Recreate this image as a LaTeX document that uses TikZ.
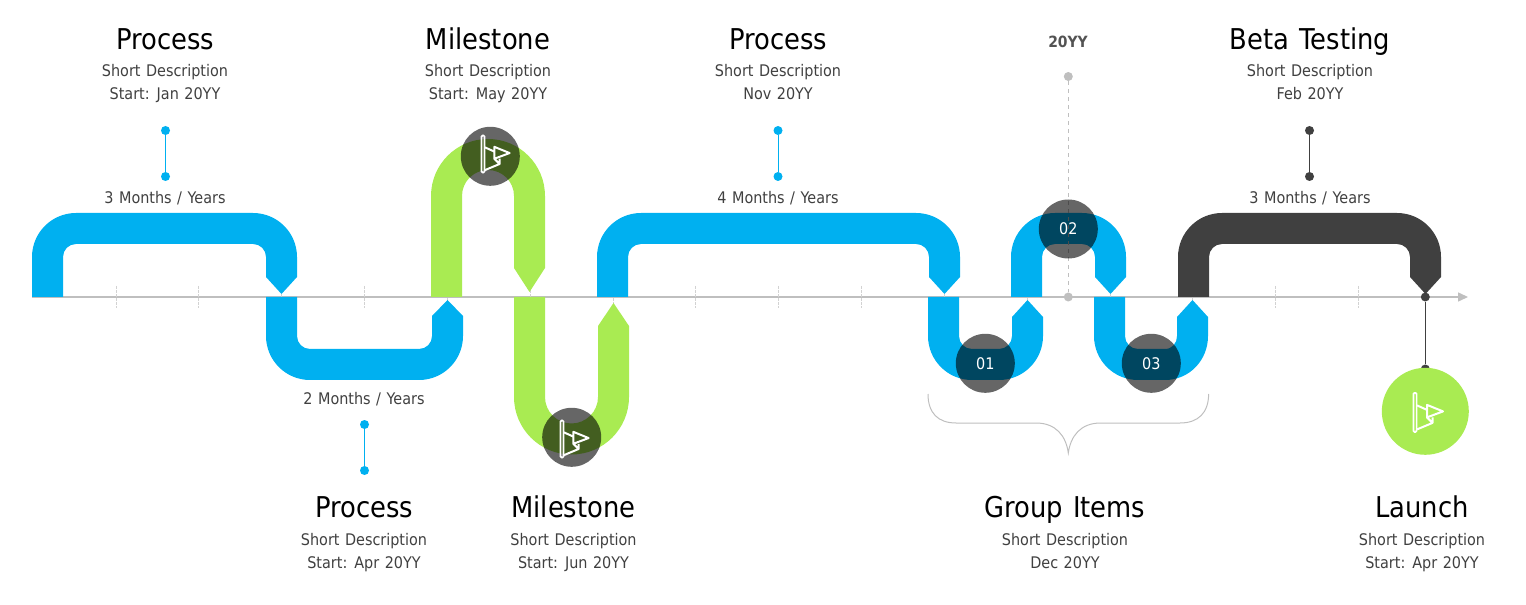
\documentclass[tikz,border=0pt]{standalone}
\usepackage{fontspec}
\setmainfont{DejaVu Sans}[FakeStretch=0.9,WordSpace=1.2]
\usetikzlibrary{positioning}
\usetikzlibrary{arrows.meta}
\definecolor{ribbonblue}{RGB}{0,176,240}
\definecolor{ribbongreen}{RGB}{169,235,82}
\definecolor{ribbondark}{RGB}{64,64,64}
\definecolor{axisgrey}{RGB}{191,191,191}
\tikzset{
	titletext/.style={text=black,font=\fontsize{21.5}{25}\selectfont,inner sep=0pt,anchor=base},
	desctext/.style={text=ribbondark,font=\fontsize{12}{14}\selectfont,inner sep=0pt,anchor=base},
	dot/.style={circle,fill=#1,inner sep=0pt,minimum size=6.75pt},
	badge/.style={circle,fill=black,fill opacity=0.6,text opacity=1,text=white,inner sep=0pt,minimum size=44.25pt,font=\fontsize{12}{14}\selectfont},
	flagicon/.pic={
		\draw [white,line width=1.3pt,rounded corners=0.8pt] (-1.6,-19.5) rectangle (1.6,19.5);
		\draw [white,line width=1.5pt,line join=round] (2,-17) -- (17.5,-10.5) -- (17.5,-5) (2,7) -- (12,2.5) (12,-5) -- (17.5,-10.5);
		\draw [white,line width=1.5pt,line join=round] (12,-5) -- (28,1) -- (12,7.5) -- cycle;
	}
}
\begin{document}
\begin{tikzpicture}[x=0.75pt,y=0.75pt,yscale=-1,xscale=1]
	\useasboundingbox (0,0) rectangle (1526,605);

	%Axis line
	\coordinate (axisstart) at (32,297);
	\coordinate (axisend) at (1468,297);
	\draw [axisgrey,line width=1.1pt,-{Triangle[length=7.5pt,width=6.75pt]}] (axisstart) -- (axisend);
	%Tick marks
	\foreach \tickx in {116,198,281,364,447,530,613,695,778,861,944,1027,1110,1192,1275,1358}
		\draw [axisgrey!70,dash pattern={on 2pt off 1pt},line width=0.5pt] (\tickx,286) -- (\tickx,308);

	%Ribbon 3 months
	\fill [ribbonblue] (32,297) -- (32,257) .. controls (32,232.7) and (51.7,213) .. (76,213) -- (253,213) .. controls (277.3,213) and (297,232.7) .. (297,257) -- (297,277) -- (281.5,294) -- (266,277) -- (266,257) .. controls (266,249.8) and (260.2,244) .. (253,244) -- (76,244) .. controls (68.8,244) and (63,249.8) .. (63,257) -- (63,297) -- cycle;
	%Ribbon 2 months
	\fill [ribbonblue] (266,297) -- (266,336) .. controls (266,360.3) and (285.7,380) .. (310,380) -- (419,380) .. controls (443.3,380) and (463,360.3) .. (463,336) -- (463,316) -- (447.5,300) -- (432,316) -- (432,336) .. controls (432,343.2) and (426.2,349) .. (419,349) -- (310,349) .. controls (302.8,349) and (297,343.2) .. (297,336) -- (297,297) -- cycle;
	%Ribbon milestone up
	\fill [ribbongreen] (431,297) -- (431,196) .. controls (431,164.5) and (456.5,139) .. (488,139) .. controls (519.5,139) and (545,164.5) .. (545,196) -- (545,268) -- (529.5,292) -- (514,268) -- (514,196) .. controls (514,181.6) and (502.4,170) .. (488,170) .. controls (473.6,170) and (462,181.6) .. (462,196) -- (462,297) -- cycle;
	%Ribbon milestone down
	\fill [ribbongreen] (514,297) -- (514,397) .. controls (514,428.8) and (539.8,454.5) .. (571.5,454.5) .. controls (603.2,454.5) and (629,428.8) .. (629,397) -- (629,326) -- (613.5,303) -- (598,326) -- (598,397) .. controls (598,411.6) and (586.1,423.5) .. (571.5,423.5) .. controls (556.9,423.5) and (545,411.6) .. (545,397) -- (545,297) -- cycle;
	%Ribbon 4 months
	\fill [ribbonblue] (597,297) -- (597,257) .. controls (597,232.7) and (616.7,213) .. (641,213) -- (916,213) .. controls (940.3,213) and (960,232.7) .. (960,257) -- (960,277) -- (944.5,294) -- (929,277) -- (929,257) .. controls (929,249.8) and (923.2,244) .. (916,244) -- (641,244) .. controls (633.8,244) and (628,249.8) .. (628,257) -- (628,297) -- cycle;
	%Ribbon item 01
	\fill [ribbonblue] (928,297) -- (928,336) .. controls (928,360.3) and (947.7,380) .. (972,380) -- (999,380) .. controls (1023.3,380) and (1043,360.3) .. (1043,336) -- (1043,317) -- (1027.5,300) -- (1012,317) -- (1012,336) .. controls (1012,343.2) and (1006.2,349) .. (999,349) -- (972,349) .. controls (964.8,349) and (959,343.2) .. (959,336) -- (959,297) -- cycle;
	%Ribbon item 02
	\fill [ribbonblue] (1011,297) -- (1011,257) .. controls (1011,232.7) and (1030.7,213) .. (1055,213) -- (1082,213) .. controls (1106.3,213) and (1126,232.7) .. (1126,257) -- (1126,277) -- (1110.5,294) -- (1095,277) -- (1095,257) .. controls (1095,249.8) and (1089.2,244) .. (1082,244) -- (1055,244) .. controls (1047.8,244) and (1042,249.8) .. (1042,257) -- (1042,297) -- cycle;
	%Ribbon item 03
	\fill [ribbonblue] (1094,297) -- (1094,336) .. controls (1094,360.3) and (1113.7,380) .. (1138,380) -- (1165,380) .. controls (1189.3,380) and (1208,360.3) .. (1208,336) -- (1208,317) -- (1192.5,300) -- (1177,317) -- (1177,336) .. controls (1177,343.2) and (1172.2,349) .. (1165,349) -- (1138,349) .. controls (1130.8,349) and (1125,343.2) .. (1125,336) -- (1125,297) -- cycle;
	%Ribbon beta
	\fill [ribbondark] (1178,297) -- (1178,257) .. controls (1178,232.7) and (1197.7,213) .. (1222,213) -- (1397,213) .. controls (1421.3,213) and (1441,232.7) .. (1441,257) -- (1441,277) -- (1425.5,294) -- (1410,277) -- (1410,257) .. controls (1410,249.8) and (1404.2,244) .. (1397,244) -- (1222,244) .. controls (1214.8,244) and (1209,249.8) .. (1209,257) -- (1209,297) -- cycle;

	%Brace
	\draw [axisgrey,line width=0.75pt] (928,394) .. controls (928,413) and (938,423) .. (956,423) -- (1036,423) .. controls (1056,423) and (1066,436) .. (1068.3,453) .. controls (1070.6,436) and (1080.6,423) .. (1100.6,423) -- (1180,423) .. controls (1198,423) and (1208.6,413) .. (1208.6,394);

	%Connectors
	\node (jandot) [dot=ribbonblue] at (165.5,130.5) {};
	\node (janspan) [dot=ribbonblue] at (165.5,176.5) {};
	\draw [ribbonblue,line width=0.75pt] (jandot) -- (janspan);
	\node (aprspan) [dot=ribbonblue] at (364.5,424.5) {};
	\node (aprdot) [dot=ribbonblue] at (364.5,470.5) {};
	\draw [ribbonblue,line width=0.75pt] (aprspan) -- (aprdot);
	\node (novdot) [dot=ribbonblue] at (778,130.5) {};
	\node (novspan) [dot=ribbonblue] at (778,176.5) {};
	\draw [ribbonblue,line width=0.75pt] (novdot) -- (novspan);
	\node (febdot) [dot=ribbondark] at (1309.5,130.5) {};
	\node (febspan) [dot=ribbondark] at (1309.5,176.5) {};
	\draw [ribbondark,line width=0.75pt] (febdot) -- (febspan);
	\node (yeardot) [dot=axisgrey] at (1068.3,76.5) {};
	\node (axisdot) [dot=axisgrey] at (1068.3,297) {};
	\draw [axisgrey,dashed,line width=0.5pt] (yeardot) -- (axisdot);
	\node (launchaxis) [dot=ribbondark] at (1425.3,297) {};
	\node (launchdot) [dot=ribbondark] at (1425.3,369) {};
	\draw [ribbondark,line width=0.75pt] (launchaxis) -- (launchdot);

	%Circles
	\node (flagup) [badge] at (490.3,156.3) {};
	\node (flagdown) [badge] at (571.7,437.3) {};
	\node (itemone) [badge] at (985.3,363.3) {01};
	\node (itemtwo) [badge] at (1068.3,229) {02};
	\node (itemthree) [badge] at (1151.3,363.3) {03};
	\node (launch) [circle,fill=ribbongreen,inner sep=0pt,minimum size=65.25pt] at (1425.3,411.3) {};
	\pic [scale=0.95] at (483,154) {flagicon};
	\pic [scale=0.95] at (562,439) {flagicon};
	\pic at (1415,412.4) {flagicon};

	% Text Node
	\node (proca) [titletext] at (165,49.5) {Process};
	\node (procadesc) [desctext] at (165,77) {Short Description};
	\node (procadate) [desctext] at (165,99.7) {Start: Jan 20YY};
	\node (procaspan) [desctext] at (165,204) {3 Months / Years};
	% Text Node
	\node (milea) [titletext] at (488,49.5) {Milestone};
	\node (mileadesc) [desctext] at (488,77) {Short Description};
	\node (mileadate) [desctext] at (488,99.7) {Start: May 20YY};
	% Text Node
	\node (procc) [titletext] at (778,49.5) {Process};
	\node (proccdesc) [desctext] at (778,77) {Short Description};
	\node (proccdate) [desctext] at (778,99.7) {Nov 20YY};
	\node (proccspan) [desctext] at (778,204) {4 Months / Years};
	% Text Node
	\node (yearlabel) [desctext,font=\fontsize{11.6}{14}\selectfont\bfseries,text=ribbondark!90] at (1068,47.5) {20YY};
	% Text Node
	\node (beta) [titletext] at (1310,49.5) {Beta Testing};
	\node (betadesc) [desctext] at (1310,77) {Short Description};
	\node (betadate) [desctext] at (1310,99.7) {Feb 20YY};
	\node (betaspan) [desctext] at (1310,204) {3 Months / Years};
	% Text Node
	\node (procbspan) [desctext] at (364,404) {2 Months / Years};
	\node (procb) [titletext] at (364,517.7) {Process};
	\node (procbdesc) [desctext] at (364,545) {Short Description};
	\node (procbdate) [desctext] at (364,568.7) {Start: Apr 20YY};
	% Text Node
	\node (mileb) [titletext] at (573.5,517.7) {Milestone};
	\node (milebdesc) [desctext] at (573.5,545) {Short Description};
	\node (milebdate) [desctext] at (573.5,568.7) {Start: Jun 20YY};
	% Text Node
	\node (group) [titletext] at (1065,517.7) {Group Items};
	\node (groupdesc) [desctext] at (1065,545) {Short Description};
	\node (groupdate) [desctext] at (1065,568.7) {Dec 20YY};
	% Text Node
	\node (launchtitle) [titletext] at (1422,517.7) {Launch};
	\node (launchdesc) [desctext] at (1422,545) {Short Description};
	\node (launchdate) [desctext] at (1422,568.7) {Start: Apr 20YY};
\end{tikzpicture}
\end{document}
